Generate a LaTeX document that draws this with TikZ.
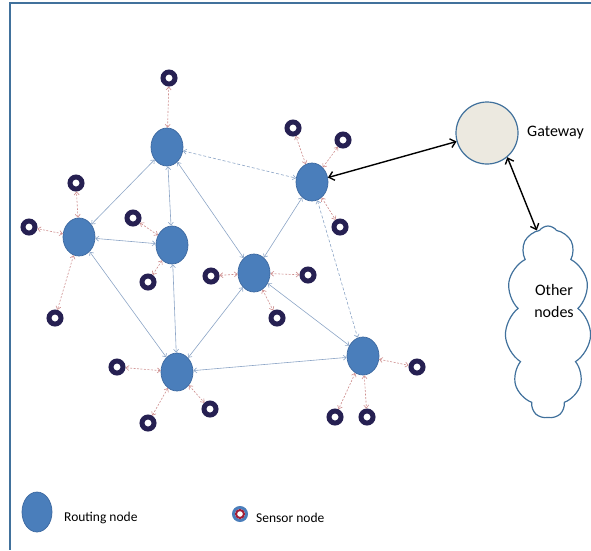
\documentclass[tikz,border=0pt]{standalone}
\usepackage{fontspec}
\setmainfont{Carlito}
\usetikzlibrary{shapes.geometric,shapes.symbols,arrows.meta}
\definecolor{routblue}{RGB}{74,126,187}
\definecolor{routedge}{RGB}{60,104,160}
\definecolor{sensnavy}{RGB}{38,32,82}
\definecolor{linkblue}{RGB}{140,165,198}
\definecolor{linkpink}{RGB}{205,140,140}
\definecolor{frameblue}{RGB}{65,113,156}
\definecolor{gwfill}{RGB}{236,233,224}
\definecolor{legred}{RGB}{160,30,55}
\tikzset{>={Straight Barb[length=3pt,width=5pt]}}
\tikzset{
  router/.style = {ellipse, fill=routblue, draw=routedge, line width=0.7pt,
    minimum width=32pt, minimum height=38pt, inner sep=0pt},
  sensor/.style = {circle, draw=sensnavy, fill=white, line width=5pt,
    minimum size=12pt, inner sep=0pt},
  rlink/.style = {linkblue, line width=0.6pt, <->},
  rdash/.style = {rlink, dash pattern=on 3pt off 2pt},
  slink/.style = {linkpink, line width=0.6pt, dash pattern=on 2pt off 1.5pt, <->},
  gwlink/.style = {black, line width=1.4pt,
    {Straight Barb[length=5pt,width=9pt]}-{Straight Barb[length=5pt,width=9pt]}},
  bigtext/.style = {font=\fontsize{16}{22}\selectfont, inner sep=1pt},
  legtext/.style = {font=\fontsize{13.5}{16}\selectfont, inner sep=1pt, anchor=west}
}

\begin{document}
\begin{tikzpicture}[x=1pt,y=-1pt]
  \useasboundingbox (0,0) rectangle (591,550);
  % frame
  \draw[frameblue, line width=2pt] (591,3) -- (10,3) -- (10,550);
  % routing nodes
  \node[router] (r1) at (167,147) {};
  \node[router] (r2) at (312,182) {};
  \node[router] (r3) at (79,237) {};
  \node[router] (r4) at (172,245) {};
  \node[router] (r5) at (254,273) {};
  \node[router] (r6) at (177,372) {};
  \node[router] (r7) at (363,356) {};
  % sensor nodes
  \node[sensor] (s1) at (169,78) {};
  \node[sensor] (s2) at (293,128) {};
  \node[sensor] (s3) at (343,140) {};
  \node[sensor] (s4) at (340,227) {};
  \node[sensor] (s5) at (76,183) {};
  \node[sensor] (s6) at (29,227) {};
  \node[sensor] (s7) at (55,318) {};
  \node[sensor] (s8) at (133,218) {};
  \node[sensor] (s9) at (148,282) {};
  \node[sensor] (s10) at (211,276) {};
  \node[sensor] (s11) at (308,275) {};
  \node[sensor] (s12) at (277,318) {};
  \node[sensor] (s13) at (117,367) {};
  \node[sensor] (s14) at (148,423) {};
  \node[sensor] (s15) at (210,409) {};
  \node[sensor] (s16) at (417,367) {};
  \node[sensor] (s17) at (335,417) {};
  \node[sensor] (s18) at (367,417) {};
  % links between routing nodes
  \draw[rdash] (r1) -- (r2);
  \draw[rdash] (r2) -- (r7);
  \foreach \a/\b in {r1/r3, r1/r4, r1/r5, r4/r3, r3/r6, r4/r6,
                     r5/r6, r2/r5, r5/r7, r7/r6}
    \draw[rlink] (\a) -- (\b);
  % links to sensors
  \foreach \r/\s in {r1/s1, r2/s2, r2/s3, r2/s4, r3/s5, r3/s6, r3/s7,
                     r4/s8, r4/s9, r5/s10, r5/s11, r5/s12, r6/s13,
                     r6/s14, r6/s15, r7/s16, r7/s17, r7/s18}
    \draw[slink] (\r) -- (\s);
  % gateway and cloud
  \node[circle, fill=gwfill, draw=frameblue, line width=1.2pt,
    minimum size=62pt] (gw) at (487,133) {};
  \node[bigtext, anchor=west] (gwtxt) at (526,133) {Gateway};
  \node[cloud, draw=frameblue, line width=1.2pt, cloud puffs=11,
    cloud puff arc=110, cloud ignores aspect,
    minimum width=86pt, minimum height=192pt]
    (net) at (548,322) {};
  \node[bigtext, align=center] (nettxt) at (554,301) {Other\\nodes};
  \draw[gwlink] (r2) -- (gw);
  \draw[gwlink] (gw.-50) -- (net.97);
  % legend
  \node[router, minimum width=30pt, minimum height=40pt] (lrout) at (37,512) {};
  \node[legtext] (lrouttxt) at (63,518) {Routing node};
  \node[circle, draw=routblue, line width=3pt, minimum size=13pt,
    inner sep=0pt] (lsens) at (240,514) {};
  \node[circle, draw=legred, fill=white, line width=2pt, minimum size=8pt,
    inner sep=0pt] (lsensin) at (lsens) {};
  \node[legtext] (lsenstxt) at (255,518) {Sensor node};
\end{tikzpicture}
\end{document}
